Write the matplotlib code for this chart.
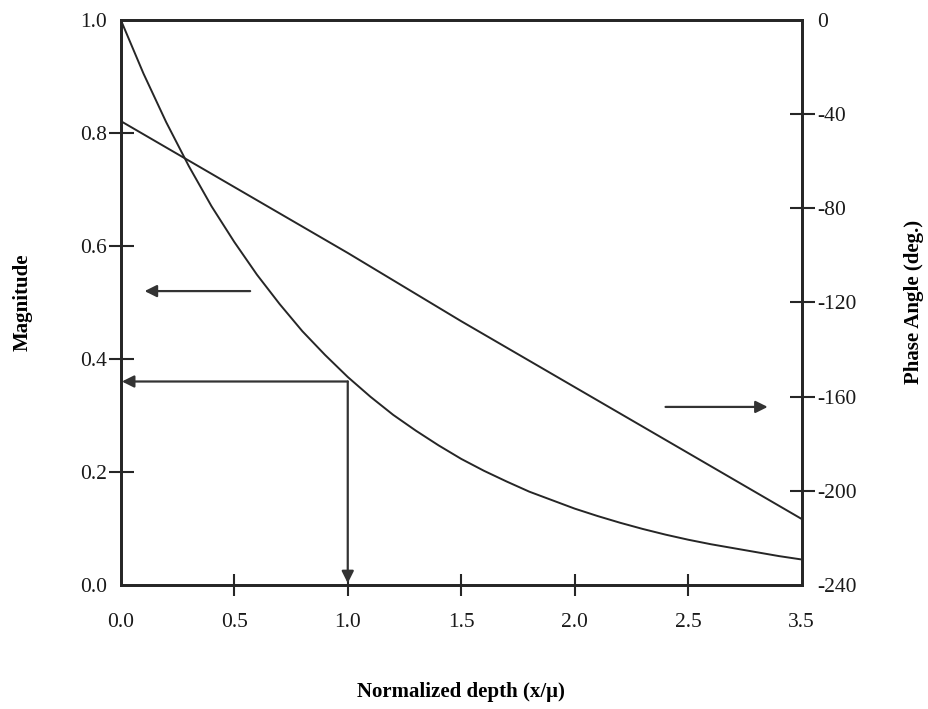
import numpy as np
import matplotlib
matplotlib.use('Agg')
import matplotlib.pyplot as plt

# values
depth = [0.0, 0.1, 0.2, 0.3, 0.4, 0.5, 0.6, 0.7, 0.8, 0.9, 1.0,
         1.1, 1.2, 1.3, 1.4, 1.5, 1.6, 1.7, 1.8, 1.9, 2.0,
         2.1, 2.2, 2.3, 2.4, 2.5, 2.6, 2.7, 2.8, 2.9, 3.0]
magnitude = [1.000, 0.905, 0.819, 0.741, 0.670, 0.607, 0.549, 0.497, 0.449, 0.407, 0.368,
             0.333, 0.301, 0.273, 0.247, 0.223, 0.202, 0.183, 0.165, 0.150, 0.135,
             0.122, 0.110, 0.099, 0.089, 0.080, 0.072, 0.065, 0.058, 0.051, 0.045]
phase_depth = [0.0, 0.5, 1.0, 1.5, 2.0, 2.5, 3.0]
phase = [-43, -71, -99, -128, -156, -184, -212]

x_ticks = [0.0, 0.5, 1.0, 1.5, 2.0, 2.5, 3.0]
x_labels = ['0.0', '0.5', '1.0', '1.5', '2.0', '2.5', '3.5']
mag_ticks = [0.0, 0.2, 0.4, 0.6, 0.8, 1.0]
phase_ticks = [0, -40, -80, -120, -160, -200, -240]

ink = '#262626'
plt.rcParams['font.family'] = ['Liberation Serif', 'DejaVu Serif']

fig = plt.figure(figsize=(9.29, 7.09), dpi=100)
ax = fig.add_axes([0.130, 0.175, 0.733, 0.797])
ax2 = ax.twinx()

ax.plot(depth, magnitude, color=ink, lw=1.4)
ax2.plot(phase_depth, phase, color=ink, lw=1.4)

ax.set_xlim(0, 3.0)
ax.set_ylim(0, 1.0)
ax2.set_ylim(-240, 0)

for a in (ax, ax2):
    for s in a.spines.values():
        s.set_linewidth(2.0)
        s.set_color(ink)

ax.set_xticks(x_ticks)
ax.set_xticklabels(x_labels)
ax.set_yticks(mag_ticks)
ax.set_yticklabels(['%.1f' % v for v in mag_ticks])
ax2.set_yticks(phase_ticks)
ax2.set_yticklabels([str(v) for v in phase_ticks])

ax.tick_params(axis='x', direction='inout', length=16, width=1.5, color=ink,
               labelsize=15.5, pad=12, labelcolor='#1a1a1a')
ax.tick_params(axis='y', direction='inout', length=18, width=1.5, color=ink,
               labelsize=15.5, pad=1, labelcolor='#1a1a1a')
ax2.tick_params(axis='y', direction='inout', length=18, width=1.5, color=ink,
                labelsize=15.5, pad=2, labelcolor='#1a1a1a')

# hide tick marks that sit on the corners
for t in (ax.xaxis.get_major_ticks()[0], ax.xaxis.get_major_ticks()[-1],
          ax.yaxis.get_major_ticks()[0], ax.yaxis.get_major_ticks()[-1],
          ax2.yaxis.get_major_ticks()[0], ax2.yaxis.get_major_ticks()[-1]):
    t.tick1line.set_visible(False)
    t.tick2line.set_visible(False)

ax.set_xlabel('Normalized depth (x/\u03bc)', fontsize=15, fontweight='bold', labelpad=36)
ax.set_ylabel('Magnitude', fontsize=15, fontweight='bold', labelpad=34)
ax2.set_ylabel('Phase Angle (deg.)', fontsize=15, fontweight='bold', labelpad=34)

arrow = dict(arrowstyle='-|>', color='#333333', lw=1.6, mutation_scale=18,
             shrinkA=0, shrinkB=0)
# magnitude curve -> left axis
ax.annotate('', xy=(0.105, 0.52), xytext=(0.57, 0.52), arrowprops=arrow)
# phase line -> right axis
ax.annotate('', xy=(2.85, 0.315), xytext=(2.40, 0.315), arrowprops=arrow)
# 1/e reading at depth 1.0
ax.annotate('', xy=(0.005, 0.36), xytext=(1.0, 0.36), arrowprops=arrow)
ax.annotate('', xy=(1.0, 0.003), xytext=(1.0, 0.36), arrowprops=arrow)

fig.savefig('out.png', dpi=100)
